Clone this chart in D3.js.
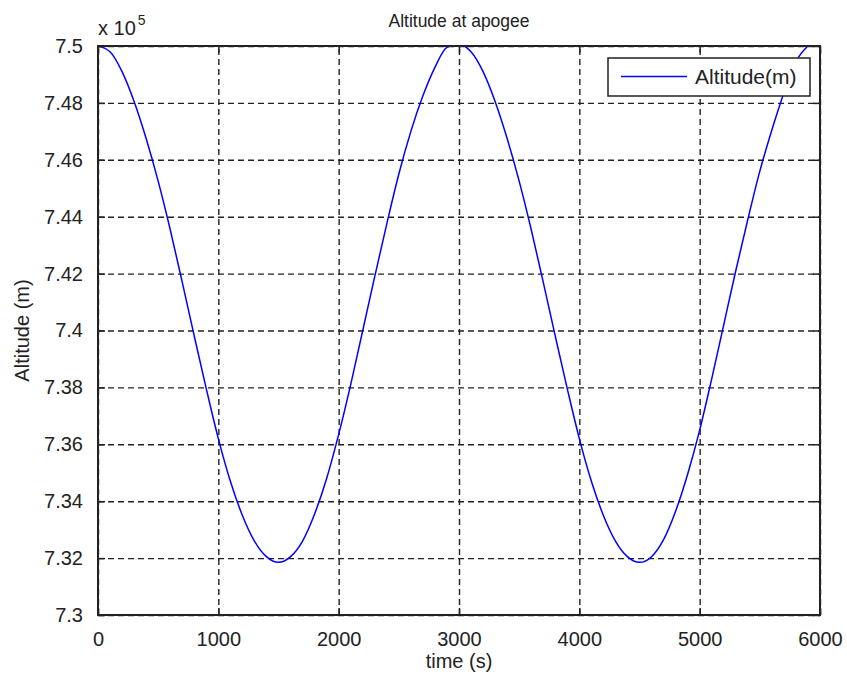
<!DOCTYPE html>
<html>
<head>
<meta charset="utf-8">
<script src="https://cdn.jsdelivr.net/npm/d3@7"></script>
<style>
  body { margin: 0; background: #fff; }
  text { font-family: "Liberation Sans", Arial, sans-serif; fill: #222; }
</style>
</head>
<body>
<div class="chart"></div>
<script>
var svgWidth = 847;
var svgHeight = 677;
var margin = { top: 46, right: 27, bottom: 62, left: 98 };
var width = svgWidth - margin.left - margin.right;
var height = svgHeight - margin.top - margin.bottom;

// time (s), sampled every 100 s
var timeSec = d3.range(0, 6001, 100);

// altitude (m)
var altitudeM = [
  750000, 749800, 749100, 748050, 746750, 745250, 743550, 741700, 739800, 737950,
  736200, 734700, 733500, 732600, 732050, 731850, 732050, 732600, 733550, 734800,
  736350, 738100, 740000, 741900, 743750, 745500, 747000, 748250, 749250, 749950,
  750050, 749800, 749100, 748050, 746750, 745250, 743550, 741700, 739800, 737950,
  736200, 734700, 733500, 732600, 732050, 731850, 732050, 732650, 733650, 734950,
  736500, 738300, 740200, 742100, 743900, 745600, 747050, 748350, 749450, 750000,
  750250
];

var xTicks = [0, 1000, 2000, 3000, 4000, 5000, 6000];
var yTicks = [730000, 732000, 734000, 736000, 738000, 740000, 742000, 744000, 746000, 748000, 750000];

var titleText = "Altitude at apogee";
var xLabel = "time (s)";
var yLabel = "Altitude (m)";
var seriesName = "Altitude(m)";

var data = timeSec.map(function(t, i) { return { t: t, alt: altitudeM[i] }; });

var svg = d3.select(".chart")
  .append("svg")
  .attr("width", svgWidth)
  .attr("height", svgHeight);

var chart = svg.append("g")
  .attr("transform", `translate(${margin.left}, ${margin.top})`);

var xScale = d3.scaleLinear().domain([0, 6000]).range([0, width]);
var yScale = d3.scaleLinear().domain([730000, 750000]).range([height, 0]);

// dashed grid
chart.append("g")
  .attr("class", "grid")
  .attr("transform", `translate(0, ${height})`)
  .call(d3.axisBottom(xScale).tickValues(xTicks).tickSize(-height).tickFormat(""));
chart.append("g")
  .attr("class", "grid")
  .call(d3.axisLeft(yScale).tickValues(yTicks).tickSize(-width).tickFormat(""));
chart.selectAll(".grid .domain").remove();
chart.selectAll(".grid line")
  .attr("stroke", "#222")
  .attr("stroke-width", 1.4)
  .attr("stroke-dasharray", "6,4");

// clip for the line
svg.append("clipPath").attr("id", "plotClip")
  .append("rect").attr("width", width).attr("height", height);

var line = d3.line()
  .x(function(d) { return xScale(d.t); })
  .y(function(d) { return yScale(d.alt); })
  .curve(d3.curveMonotoneX);

chart.append("path")
  .datum(data)
  .attr("clip-path", "url(#plotClip)")
  .attr("fill", "none")
  .attr("stroke", "#0000ff")
  .attr("stroke-width", 1.5)
  .attr("d", line);

// axes with inward ticks, box on all four sides
var tickLen = 7;
var bottomAxis = d3.axisBottom(xScale).tickValues(xTicks).tickSizeInner(-tickLen).tickSizeOuter(0).tickPadding(10 + tickLen)
  .tickFormat(d3.format("d"));
var leftAxis = d3.axisLeft(yScale).tickValues(yTicks).tickSizeInner(-tickLen).tickSizeOuter(0).tickPadding(8 + tickLen)
  .tickFormat(function(d) { return +(d / 1e5).toFixed(2); });

chart.append("g").attr("transform", `translate(0, ${height})`).call(bottomAxis);
chart.append("g").call(leftAxis);
chart.append("g").call(d3.axisTop(xScale).tickValues(xTicks).tickSizeInner(-tickLen).tickSizeOuter(0).tickFormat(""));
chart.append("g").attr("transform", `translate(${width}, 0)`)
  .call(d3.axisRight(yScale).tickValues(yTicks).tickSizeInner(-tickLen).tickSizeOuter(0).tickFormat(""));

chart.selectAll(".tick line").filter(function() { return !this.parentNode.parentNode.classList.contains("grid"); })
  .attr("stroke", "#222").attr("stroke-width", 1.5);
chart.selectAll(".domain").attr("stroke", "none");
chart.selectAll(".tick text").attr("font-size", 20).attr("fill", "#222")
  .style("font-family", "'Liberation Sans', Arial, sans-serif");

chart.append("rect")
  .attr("width", width).attr("height", height)
  .attr("fill", "none").attr("stroke", "#222").attr("stroke-width", 2);

// exponent label
var expo = chart.append("text").attr("x", 0).attr("y", -11).attr("font-size", 20);
expo.append("tspan").text("x 10");
expo.append("tspan").attr("font-size", 14).attr("dy", -10).attr("dx", 2).text("5");

// title and axis labels
svg.append("text")
  .attr("x", margin.left + width / 2).attr("y", 27)
  .attr("text-anchor", "middle").attr("font-size", 17.5)
  .text(titleText);
svg.append("text")
  .attr("x", margin.left + width / 2).attr("y", 668)
  .attr("text-anchor", "middle").attr("font-size", 20)
  .text(xLabel);
svg.append("text")
  .attr("transform", `translate(29, ${margin.top + height / 2}) rotate(-90)`)
  .attr("text-anchor", "middle").attr("font-size", 20)
  .text(yLabel);

// legend
var legend = svg.append("g").attr("transform", "translate(608, 58)");
legend.append("rect").attr("width", 202).attr("height", 38)
  .attr("fill", "#fff").attr("stroke", "#222").attr("stroke-width", 1.5);
legend.append("line").attr("x1", 13).attr("x2", 79).attr("y1", 18.5).attr("y2", 18.5)
  .attr("stroke", "#0000ff").attr("stroke-width", 1.5);
legend.append("text").attr("x", 87).attr("y", 19).attr("dy", "0.35em")
  .attr("font-size", 21).text(seriesName);
</script>
</body>
</html>
